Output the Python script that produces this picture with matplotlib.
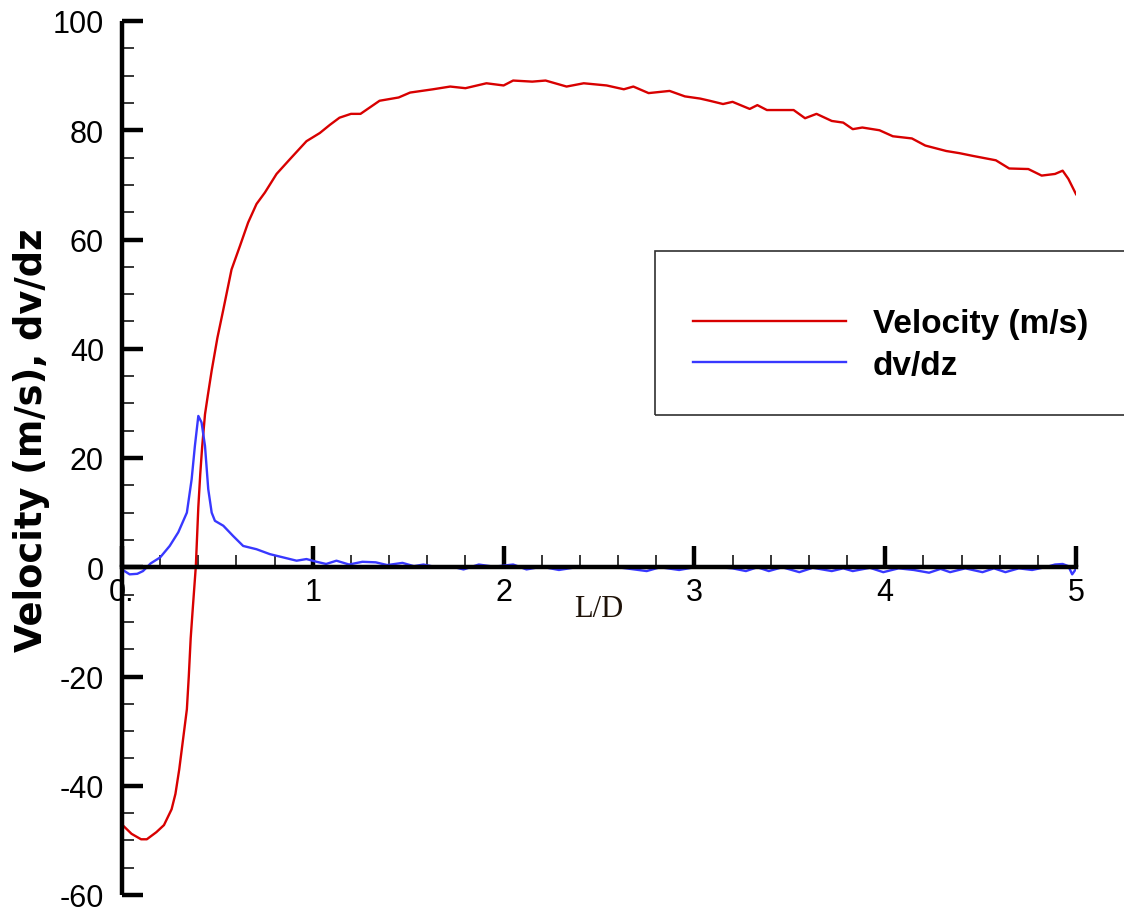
import numpy as np
import matplotlib
matplotlib.use("Agg")
import matplotlib.pyplot as plt
from matplotlib.patches import Rectangle
from matplotlib.ticker import MultipleLocator

plt.rcParams['font.family'] = ['Liberation Sans', 'DejaVu Sans']
plt.rcParams['axes.unicode_minus'] = False

# velocity along the axis
vel_x = [0.00, 0.05, 0.10, 0.13, 0.18, 0.22, 0.26, 0.28, 0.30, 0.32, 0.34, 0.35,
         0.36, 0.37, 0.387, 0.40, 0.41, 0.42, 0.435, 0.45, 0.47, 0.50, 0.53, 0.574,
         0.618, 0.661, 0.705, 0.749, 0.81, 0.88, 0.93, 0.967, 1.037, 1.09, 1.14, 1.20,
         1.25, 1.30, 1.35, 1.45, 1.51, 1.63, 1.72, 1.80, 1.91, 2.00, 2.05, 2.15,
         2.22, 2.33, 2.42, 2.54, 2.63, 2.68, 2.76, 2.87, 2.95, 3.03, 3.08, 3.15,
         3.20, 3.29, 3.33, 3.38, 3.52, 3.58, 3.64, 3.72, 3.78, 3.83, 3.88, 3.97,
         4.04, 4.14, 4.21, 4.32, 4.39, 4.46, 4.58, 4.65, 4.75, 4.82, 4.89, 4.93,
         4.96, 5.00]
velocity = [-47.1, -48.8, -49.8, -49.8, -48.5, -47.2, -44.3, -41.5, -37.0, -31.5, -26.0, -20.0,
            -13.0, -8.0, 0.2, 11.0, 17.0, 22.0, 28.0, 31.5, 36.0, 42.0, 47.0, 54.5,
            58.8, 63.1, 66.5, 68.6, 72.0, 74.7, 76.6, 78.0, 79.5, 81.0, 82.3, 83.0,
            83.0, 84.2, 85.4, 86.0, 86.9, 87.5, 88.0, 87.7, 88.6, 88.2, 89.1, 88.9,
            89.1, 88.0, 88.6, 88.2, 87.5, 88.0, 86.8, 87.2, 86.2, 85.8, 85.4, 84.8,
            85.2, 83.9, 84.6, 83.7, 83.7, 82.2, 83.0, 81.7, 81.4, 80.2, 80.5, 80.0,
            78.9, 78.5, 77.2, 76.2, 75.8, 75.3, 74.5, 73.0, 72.9, 71.7, 72.0, 72.6,
            71.1, 68.3]

# gradient dv/dz
grad_x = [0.00, 0.04, 0.08, 0.11, 0.15, 0.20, 0.25, 0.295, 0.34, 0.365, 0.382, 0.40,
          0.417, 0.435, 0.452, 0.47, 0.487, 0.531, 0.583, 0.635, 0.705, 0.775, 0.845, 0.915,
          0.967, 1.02, 1.07, 1.124, 1.19, 1.26, 1.33, 1.39, 1.47, 1.53, 1.58, 1.65,
          1.72, 1.79, 1.87, 1.95, 2.05, 2.12, 2.20, 2.29, 2.38, 2.50, 2.62, 2.75,
          2.82, 2.92, 3.00, 3.10, 3.20, 3.27, 3.33, 3.39, 3.46, 3.55, 3.62, 3.72,
          3.78, 3.83, 3.92, 3.99, 4.07, 4.15, 4.23, 4.29, 4.34, 4.42, 4.51, 4.57,
          4.63, 4.70, 4.77, 4.85, 4.89, 4.93, 4.96, 4.98, 5.00]
dvdz = [-0.4, -1.3, -1.2, -0.7, 0.7, 1.8, 3.9, 6.4, 10.0, 16.1, 22.2, 27.7,
        26.5, 22.2, 14.3, 10.0, 8.5, 7.6, 5.7, 3.9, 3.3, 2.4, 1.8, 1.2,
        1.5, 1.0, 0.6, 1.2, 0.5, 1.0, 0.9, 0.4, 0.8, 0.2, 0.5, 0.0,
        0.2, -0.4, 0.5, 0.1, 0.5, -0.4, 0.1, -0.5, 0.0, 0.1, -0.1, -0.7,
        0.0, -0.5, 0.0, 0.1, -0.2, -0.7, 0.0, -0.7, 0.0, -0.9, -0.1, -0.7,
        -0.2, -0.7, -0.1, -0.9, -0.2, -0.5, -1.0, -0.3, -0.9, -0.2, -0.9, -0.2,
        -0.9, -0.2, -0.5, 0.1, 0.5, 0.6, 0.2, -1.3, -0.3]

x_ticks = [0, 1, 2, 3, 4, 5]
x_ticklabels = ['0.', '1', '2', '3', '4', '5']
y_ticks = [-60, -40, -20, 0, 20, 40, 60, 80, 100]
y_ticklabels = ['-60', '-40', '-20', '0', '20', '40', '60', '80', '100']

fig = plt.figure(figsize=(11.24, 9.12), dpi=100)
ax = fig.add_axes([122/1124, 16/912, 954/1124, 874/912])

ax.plot(vel_x, velocity, color='#d80000', lw=1.7, label='Velocity (m/s)')
ax.plot(grad_x, dvdz, color='#3838ff', lw=1.7, label='dv/dz')

ax.set_xlim(0, 5)
ax.set_ylim(-60, 100)

ax.spines['top'].set_visible(False)
ax.spines['right'].set_visible(False)
ax.spines['left'].set_position(('data', 0))
ax.spines['bottom'].set_position(('data', 0))
ax.spines['left'].set_linewidth(3.2)
ax.spines['bottom'].set_linewidth(3.2)
ax.spines['left'].set_capstyle('butt')

ax.set_xticks(x_ticks)
ax.set_xticklabels(x_ticklabels)
ax.set_yticks(y_ticks)
ax.set_yticklabels(y_ticklabels)
ax.xaxis.set_minor_locator(MultipleLocator(0.2))
ax.yaxis.set_minor_locator(MultipleLocator(5))

ax.tick_params(axis='both', which='major', direction='in', length=15, width=3.2,
               labelsize=22, color='black')
ax.tick_params(axis='both', which='minor', direction='in', length=8.5, width=1.1)
ax.tick_params(axis='y', which='major', pad=13)
ax.tick_params(axis='x', which='major', pad=7)

ax.set_ylabel('Velocity (m/s), dv/dz', fontsize=26.5, fontweight='bold',
              family=['DejaVu Sans'])
ax.yaxis.set_label_coords(-0.0755, (896 - 440) / 874)

ax.text(2.5, -7.6, 'L/D', fontsize=22, family=['Liberation Serif'], color='#1e1208',
        ha='center', va='center')

# legend box
fig.patches.append(Rectangle((655/1124, (912-416)/912), 480/1124, 164/912,
                             transform=fig.transFigure, fill=False,
                             edgecolor='#303030', lw=1.2))
ax.legend(loc='center left', bbox_to_anchor=(693/1124, (912-345.5)/912),
          bbox_transform=fig.transFigure, frameon=False, borderpad=0,
          borderaxespad=0, handlelength=4.6, handletextpad=0.8, labelspacing=0.3,
          prop={'size': 24, 'weight': 'bold'})

fig.savefig('out.png', dpi=100)
